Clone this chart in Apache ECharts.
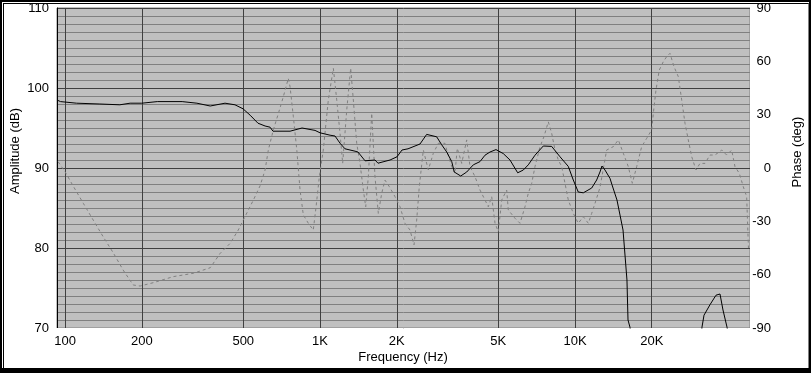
<!DOCTYPE html>
<html>
<head>
<meta charset="utf-8">
<script src="https://cdn.jsdelivr.net/npm/echarts@6/dist/echarts.min.js"></script>
<style>
html,body{margin:0;padding:0;background:#fff;}
#chart{position:absolute;left:0;top:0;width:811px;height:373px;}
#frame{position:absolute;left:0;top:0;width:811px;height:373px;box-sizing:border-box;border-style:solid;border-color:#000;border-width:2px 2px 5px 2px;pointer-events:none;}
#frame2{position:absolute;left:1px;top:1px;right:0;bottom:0;border-top:1px solid #000;border-left:1px solid #000;border-right:1px solid #808080;pointer-events:none;}
</style>
</head>
<body>
<div id="chart"></div>
<div id="frame"><div id="frame2"></div></div>
<script>
// Frequency range of the x axis (Hz)
const freqMin = 93;
const freqMax = 48570;
const tickFreqs = [100, 200, 500, 1000, 2000, 5000, 10000, 20000];
const tickLabels = ['100', '200', '500', '1K', '2K', '5K', '10K', '20K'];

// Amplitude (dB), black solid
const ampFreq = [93,96,111,137,164,180,200,230,288,329,371,424,464,499,532,571,609,637,654,729,763,850,956,1000,1095,1145,1198,1253,1372,1409,1502,1643,1688,1882,2004,2097,2214,2254,2358,2467,2620,2868,3001,3140,3285,3362,3563,3761,3993,4241,4437,4642,4900,5234,5560,5961,6271,6560,6969,7511,8102,8737,9413,9847,10300,10780,11630,12160,12530,12760,13110,13720,13970,14610,15430,15990,16140,16430,17000,20000,25000,30000,31480,32060,33830,35730,37040,38060,39470,41000,48570];
const ampDb = [98.5,98.3,98.1,98.0,97.9,98.1,98.1,98.3,98.3,98.1,97.75,98.1,97.9,97.4,96.6,95.6,95.25,95.1,94.6,94.6,94.6,95.0,94.7,94.4,94.1,94.0,93.1,92.4,92.1,92.0,90.9,91.0,90.6,91.0,91.4,92.25,92.4,92.25,92.75,93.0,94.2,93.9,92.9,92.0,90.8,89.5,89.0,89.5,90.4,90.8,91.6,92.0,92.3,91.8,91.0,89.4,89.75,90.4,91.6,92.75,92.7,91.4,90.2,88.5,87.0,86.9,87.5,88.5,89.5,90.25,89.75,88.7,87.9,86.0,82.25,76.0,71.0,70.1,66,58,55,62,70.1,71.6,72.9,74.1,74.25,72.25,70.1,67,60];

// Phase (deg), grey dashed
const phaseFreq = [94,100,108,118,129,141,155,169,185,197,222,266,319,371,406,444,478,500,548,582,609,627,656,687,718,751,763,786,811,835,860,900,941,965,994,1030,1078,1128,1163,1198,1227,1273,1319,1351,1393,1435,1479,1511,1547,1595,1643,1693,1746,1798,1870,1968,2059,2154,2254,2337,2394,2451,2542,2659,2782,2911,3091,3140,3285,3383,3454,3595,3761,3875,4055,4241,4437,4571,4713,4857,5004,5160,5397,5476,5818,6086,6367,6560,6765,6969,7291,7556,7858,8102,8349,8601,8868,9137,9413,9847,10300,10780,11280,11630,11980,12530,13310,14130,14790,15470,16180,16780,17460,18260,19110,19990,20290,20780,21410,22200,22880,23580,24450,25420,26210,27010,27820,28690,29820,30920,32350,33830,35400,37610,39340,41160,42410,44100,45710,47130,47900];
const phaseDeg = [3.5,-2.1,-10.5,-19.9,-29.3,-38.6,-48,-57.4,-65.8,-66.4,-64.5,-61.1,-59.2,-56.1,-48,-42.4,-34.9,-29.3,-18,-10,-1.1,10.1,21.4,30.8,40.1,50.4,45.7,28.9,10.1,-12.4,-26.4,-31.1,-34.9,-21.8,-4.9,10.1,38.3,56.1,38.3,19.5,2.6,32.6,56.1,38.3,13.9,2.6,-12.4,-21.8,-4.9,30.8,-4.9,-25.5,-14.2,-6.8,-10.5,-16.1,-21.8,-31.1,-34.9,-43.3,-29.3,-10.5,10.1,-1.1,8.3,13.9,13.9,10.1,0.8,-3,11.1,2.6,15.8,0.8,-4.9,-12.4,-18,-21.8,-16.1,-31.1,-35.8,-18,-12.4,-23.6,-28.3,-31.1,-21.8,-14.2,-8.6,0.8,12,17.6,26,19.5,10.1,4.5,0.8,-8.6,-18,-25.5,-31.1,-27.4,-31.1,-25.5,-19.9,-11,10.1,12,15.8,8.3,0.8,-8.6,0.8,12,16.7,21.4,30.8,43.9,55.1,59.8,62.6,64.5,57,51.4,38.3,25.1,15.8,6.4,-1.1,2.6,2.6,7.3,7.3,10.1,7.3,10.1,0.8,-3,-10.5,-16.1,-45];

const lg = Math.log10;
const pairs = (fs, vs) => fs.map((f, i) => [lg(f), vs[i]]);
const tickPos = tickFreqs.map(lg);
const labelFor = v => {
  for (let i = 0; i < tickPos.length; i++) if (Math.abs(tickPos[i] - v) < 1e-6) return tickLabels[i];
  return '';
};
const FONT = '"Liberation Sans", Arial, sans-serif';

const chart = echarts.init(document.getElementById('chart'), null, {renderer: 'canvas'});
chart.setOption({
  animation: false,
  backgroundColor: 'transparent',
  textStyle: {fontFamily: FONT},
  grid: {left: 57, top: 8, right: 61, bottom: 45, show: true, backgroundColor: '#c0c0c0', borderColor: '#808080', borderWidth: 1},
  xAxis: {
    type: 'value', min: lg(freqMin), max: lg(freqMax),
    axisLine: {show: true, onZero: false, lineStyle: {color: '#ffffff', width: 1}},
    axisTick: {show: false, customValues: tickPos},
    axisLabel: {customValues: tickPos, formatter: v => labelFor(v), color: '#000', fontSize: 13, fontFamily: FONT, margin: 7},
    splitLine: {show: true, lineStyle: {color: '#404040', width: 1}}
  },
  yAxis: [
    {
      type: 'value', min: 70, max: 110, interval: 10, position: 'left',
      axisLine: {show: true, onZero: false, lineStyle: {color: '#000', width: 1}},
      axisTick: {show: false},
      axisLabel: {color: '#000', fontSize: 13, fontFamily: FONT, margin: 8},
      splitLine: {show: true, lineStyle: {color: '#404040', width: 1}},
      minorTick: {show: false, splitNumber: 10},
      minorSplitLine: {show: true, lineStyle: {color: '#808080', width: 1}}
    },
    {
      type: 'value', min: -90, max: 90, interval: 30, position: 'right',
      axisLine: {show: true, onZero: false, lineStyle: {color: '#ffffff', width: 1}},
      axisTick: {show: false},
      axisLabel: {color: '#000', fontSize: 13, fontFamily: FONT, margin: 21, align: 'right'},
      splitLine: {show: false}
    }
  ],
  graphic: [
    {type: 'text', x: 15, y: 151, rotation: Math.PI / 2,
      style: {text: 'Amplitude (dB)', fill: '#000', fontSize: 13, fontFamily: FONT, textAlign: 'center', textVerticalAlign: 'middle', align: 'center', verticalAlign: 'middle'}},
    {type: 'text', x: 797, y: 152, rotation: Math.PI / 2,
      style: {text: 'Phase (deg)', fill: '#000', fontSize: 13, fontFamily: FONT, textAlign: 'center', textVerticalAlign: 'middle', align: 'center', verticalAlign: 'middle'}},
    {type: 'text', x: 403, y: 357,
      style: {text: 'Frequency (Hz)', fill: '#000', fontSize: 13, fontFamily: FONT, textAlign: 'center', textVerticalAlign: 'middle', align: 'center', verticalAlign: 'middle'}}
  ],
  series: [
    {
      name: 'Phase', type: 'line', yAxisIndex: 1, data: pairs(phaseFreq, phaseDeg),
      symbol: 'none', clip: true, z: 3,
      lineStyle: {color: '#808080', width: 1, type: [3, 3]}
    },
    {
      name: 'Amplitude', type: 'line', yAxisIndex: 0, data: pairs(ampFreq, ampDb),
      symbol: 'none', clip: true, z: 4,
      lineStyle: {color: '#000000', width: 1}
    }
  ]
});
</script>
</body>
</html>
